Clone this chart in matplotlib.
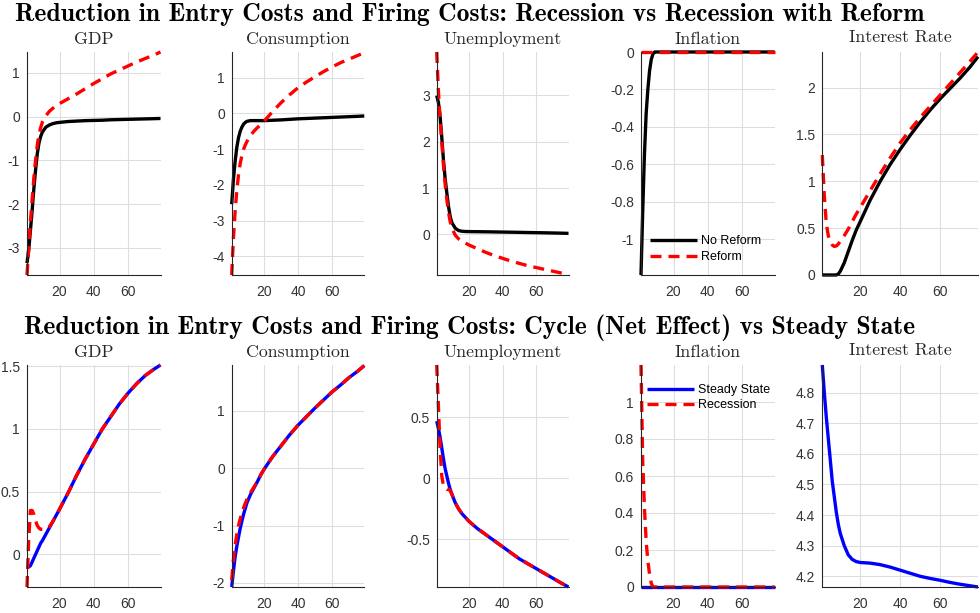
import matplotlib
matplotlib.use("Agg")
import matplotlib.pyplot as plt
from matplotlib.ticker import FixedLocator, FuncFormatter

# ---------------- data ----------------
periods = [1, 2, 3, 4, 5, 6, 7, 8, 9, 10, 12, 14, 16, 18, 20, 25, 30, 35, 40, 45, 50, 55, 60, 65, 70, 75, 79]

top_title = "Reduction in Entry Costs and Firing Costs: Recession vs Recession with Reform"
bottom_title = "Reduction in Entry Costs and Firing Costs: Cycle (Net Effect) vs Steady State"
panel_titles = ["GDP", "Consumption", "Unemployment", "Inflation", "Interest Rate"]
top_labels = ["No Reform", "Reform"]
bottom_labels = ["Steady State", "Recession"]
x_ticks = [20, 40, 60]

# top row: recession without reform (black) / with reform (red)
gdp_no_reform = [-3.35, -3.05, -2.6, -2.15, -1.65, -1.22, -0.85, -0.6, -0.45, -0.35, -0.24, -0.19, -0.16,
                 -0.14, -0.13, -0.11, -0.1, -0.09, -0.085, -0.08, -0.07, -0.065, -0.06, -0.055, -0.05, -0.045, -0.04]
gdp_reform = [-3.62, -3.0, -2.4, -1.9, -1.4, -1.0, -0.65, -0.4, -0.25, -0.12, 0.02, 0.12, 0.19,
              0.25, 0.3, 0.41, 0.52, 0.64, 0.76, 0.87, 0.98, 1.07, 1.16, 1.25, 1.33, 1.41, 1.48]
cons_no_reform = [-2.54, -1.85, -1.35, -0.95, -0.68, -0.5, -0.38, -0.3, -0.25, -0.22, -0.2, -0.2, -0.2,
                  -0.2, -0.2, -0.19, -0.18, -0.165, -0.15, -0.14, -0.13, -0.12, -0.11, -0.1, -0.09, -0.08, -0.07]
cons_reform = [-4.52, -3.5, -2.75, -2.15, -1.72, -1.4, -1.18, -1.0, -0.88, -0.78, -0.62, -0.5, -0.4,
               -0.32, -0.22, 0.05, 0.3, 0.52, 0.72, 0.88, 1.03, 1.17, 1.3, 1.42, 1.52, 1.62, 1.7]
unemp_no_reform = [3.0, 2.85, 2.55, 2.1, 1.6, 1.2, 0.89, 0.6, 0.38, 0.25, 0.13, 0.08, 0.065,
                   0.06, 0.058, 0.056, 0.054, 0.051, 0.048, 0.045, 0.042, 0.038, 0.035, 0.032, 0.028, 0.024, 0.02]
unemp_reform = [3.94, 3.1, 2.5, 2.0, 1.5, 1.08, 0.75, 0.47, 0.27, 0.13, -0.02, -0.1, -0.15,
                -0.19, -0.23, -0.31, -0.39, -0.46, -0.52, -0.58, -0.63, -0.68, -0.72, -0.76, -0.8, -0.84, -0.88]
infl_no_reform = [-1.19, -0.85, -0.55, -0.33, -0.2, -0.1, -0.04, -0.01, 0.0, 0.0, 0.0, 0.0, 0.0,
                  0.0, 0.0, 0.0, 0.0, 0.0, 0.0, 0.0, 0.0, 0.0, 0.0, 0.0, 0.0, 0.0, 0.0]
infl_reform = [0.0, 0.0, 0.0, 0.0, 0.0, 0.0, 0.0, 0.0, 0.0, 0.0, 0.0, 0.0, 0.0,
               0.0, 0.0, 0.0, 0.0, 0.0, 0.0, 0.0, 0.0, 0.0, 0.0, 0.0, 0.0, 0.0, 0.0]
rate_no_reform = [0.0, 0.0, 0.0, 0.0, 0.0, 0.0, 0.0, 0.0, 0.01, 0.04, 0.13, 0.25, 0.37,
                  0.48, 0.57, 0.8, 1.0, 1.18, 1.34, 1.49, 1.63, 1.76, 1.88, 1.99, 2.1, 2.22, 2.33]
rate_reform = [1.28, 0.85, 0.55, 0.42, 0.36, 0.32, 0.305, 0.31, 0.33, 0.36, 0.42, 0.49, 0.57,
               0.65, 0.72, 0.9, 1.08, 1.25, 1.41, 1.55, 1.68, 1.8, 1.92, 2.04, 2.16, 2.28, 2.38]

# bottom row: steady state (blue) / recession, net effect (red)
gdp_steady = [-0.09, -0.1, -0.09, -0.06, -0.03, 0.0, 0.03, 0.06, 0.09, 0.11, 0.16, 0.21, 0.26,
              0.31, 0.36, 0.49, 0.63, 0.76, 0.88, 1.0, 1.1, 1.2, 1.285, 1.36, 1.425, 1.475, 1.51]
gdp_recession = [-0.26, 0.12, 0.35, 0.35, 0.32, 0.27, 0.23, 0.21, 0.2, 0.2, 0.2, 0.22, 0.26,
                 0.31, 0.36, 0.49, 0.63, 0.76, 0.88, 1.0, 1.1, 1.2, 1.285, 1.36, 1.425, 1.475, 1.51]
cons_steady = [-2.07, -1.8, -1.55, -1.36, -1.2, -1.05, -0.92, -0.8, -0.7, -0.6, -0.46, -0.35, -0.24,
               -0.12, -0.02, 0.2, 0.39, 0.58, 0.75, 0.9, 1.05, 1.19, 1.33, 1.45, 1.58, 1.69, 1.79]
cons_recession = [-1.95, -1.6, -1.35, -1.15, -1.0, -0.88, -0.78, -0.69, -0.61, -0.54, -0.43, -0.33, -0.24,
                  -0.12, -0.02, 0.2, 0.39, 0.58, 0.75, 0.9, 1.05, 1.19, 1.33, 1.45, 1.58, 1.69, 1.79]
unemp_steady = [0.47, 0.41, 0.34, 0.25, 0.16, 0.08, 0.02, -0.04, -0.09, -0.13, -0.2, -0.25, -0.29,
                -0.32, -0.35, -0.41, -0.46, -0.51, -0.56, -0.61, -0.66, -0.7, -0.74, -0.78, -0.82, -0.86, -0.89]
unemp_recession = [0.93, 0.6, 0.25, 0.02, -0.06, -0.08, -0.09, -0.09, -0.1, -0.13, -0.2, -0.25, -0.29,
                   -0.32, -0.35, -0.41, -0.46, -0.51, -0.56, -0.61, -0.66, -0.7, -0.74, -0.78, -0.82, -0.86, -0.89]
infl_steady = [0.0, 0.0, 0.0, 0.0, 0.0, 0.0, 0.0, 0.0, 0.0, 0.0, 0.0, 0.0, 0.0,
               0.0, 0.0, 0.0, 0.0, 0.0, 0.0, 0.0, 0.0, 0.0, 0.0, 0.0, 0.0, 0.0, 0.0]
infl_recession = [1.2, 0.68, 0.43, 0.25, 0.14, 0.07, 0.02, 0.0, 0.0, 0.0, 0.0, 0.0, 0.0,
                  0.0, 0.0, 0.0, 0.0, 0.0, 0.0, 0.0, 0.0, 0.0, 0.0, 0.0, 0.0, 0.0, 0.0]
rate_steady = [4.89, 4.8, 4.72, 4.65, 4.58, 4.51, 4.46, 4.41, 4.37, 4.34, 4.3, 4.27, 4.255,
               4.248, 4.245, 4.243, 4.238, 4.23, 4.22, 4.21, 4.2, 4.193, 4.187, 4.18, 4.174, 4.169, 4.165]

top_yticks = [[-3, -2, -1, 0, 1], [-4, -3, -2, -1, 0, 1], [0, 1, 2, 3],
              [-1, -0.8, -0.6, -0.4, -0.2, 0], [0, 0.5, 1, 1.5, 2]]
bottom_yticks = [[0, 0.5, 1, 1.5], [-2, -1, 0, 1], [-0.5, 0, 0.5],
                 [0, 0.2, 0.4, 0.6, 0.8, 1], [4.2, 4.3, 4.4, 4.5, 4.6, 4.7, 4.8]]
top_ylims = [(-3.62, 1.48), (-4.52, 1.72), (-0.88, 3.94), (-1.19, 0.0), (0.0, 2.38)]
bottom_ylims = [(-0.26, 1.51), (-2.07, 1.80), (-0.89, 0.93), (0.0, 1.2), (4.165, 4.89)]

# ---------------- layout / style ----------------
W, H = 980, 613
plt.rcParams["axes.unicode_minus"] = False
tick_font = "Liberation Sans"
col_lr = [(27, 160.5), (231.7, 364.3), (436.7, 568.5), (641, 774.5), (822.3, 978)]
row_tb = [(52, 275), (365, 587)]
LW = 2.4
DASH = (3.3, 2.1)

fig = plt.figure(figsize=(W / 100, H / 100), dpi=100)


def make_axes(l, r, t, b):
    return fig.add_axes([l / W, 1 - b / H, (r - l) / W, (b - t) / H])


def style(ax, yticks, ylim):
    ax.set_xlim(1, 79)
    ax.set_ylim(*ylim)
    ax.xaxis.set_major_locator(FixedLocator(x_ticks))
    ax.yaxis.set_major_locator(FixedLocator(yticks))
    ax.yaxis.set_major_formatter(FuncFormatter(lambda v, p: f"{v:g}"))
    for s in ("top", "right"):
        ax.spines[s].set_visible(False)
    for s in ("left", "bottom"):
        ax.spines[s].set_color("#262626")
        ax.spines[s].set_linewidth(0.8)
    ax.grid(True, color="#dedede", linewidth=0.8)
    ax.set_axisbelow(True)
    ax.tick_params(axis="both", length=0, labelsize=10, labelcolor="#333333")
    ax.tick_params(axis="x", pad=7.5)
    ax.tick_params(axis="y", pad=5)
    for lab in ax.get_xticklabels() + ax.get_yticklabels():
        lab.set_fontfamily(tick_font)


top_series = [(gdp_no_reform, gdp_reform), (cons_no_reform, cons_reform),
              (unemp_no_reform, unemp_reform), (infl_no_reform, infl_reform),
              (rate_no_reform, rate_reform)]
bottom_series = [(gdp_steady, gdp_recession), (cons_steady, cons_recession),
                 (unemp_steady, unemp_recession), (infl_steady, infl_recession),
                 (rate_steady, None)]

sub_y = [[39, 39, 39, 39, 37], [352, 352, 352, 352, 350]]

for row in range(2):
    t, b = row_tb[row]
    for c in range(5):
        l, r = col_lr[c]
        ax = make_axes(l, r, t, b)
        if row == 0:
            solid, dashed = top_series[c]
            base_color = "black"
            labels = top_labels
            yt, yl = top_yticks[c], top_ylims[c]
        else:
            solid, dashed = bottom_series[c]
            base_color = "#0000ff"
            labels = bottom_labels
            yt, yl = bottom_yticks[c], bottom_ylims[c]
        ax.plot(periods, solid, color=base_color, lw=LW, label=labels[0],
                clip_on=False, solid_capstyle="butt")
        if dashed is not None:
            ax.plot(periods, dashed, color="#ff0000", lw=LW, ls=(0, DASH), label=labels[1],
                    clip_on=False, dash_capstyle="butt")
        style(ax, yt, yl)
        fig.text((l + r) / 2 / W, 1 - sub_y[row][c] / H, panel_titles[c],
                 ha="center", va="center", fontsize=12.8, fontfamily="cmr10", color="#262626")
        if c == 3:
            leg_top = 235.5 if row == 0 else 384
            leg_left = 650 if row == 0 else 646.7
            ax.legend(loc="upper left", bbox_to_anchor=(leg_left / W, 1 - leg_top / H),
                      bbox_transform=fig.transFigure, frameon=False, borderpad=0,
                      borderaxespad=0, handlelength=3.75, handletextpad=0.32,
                      labelspacing=0.28, prop={"family": tick_font, "size": 9})

fig.text(470 / W, 1 - 15 / H, top_title, ha="center", va="center",
         fontsize=18.4, fontfamily="cmb10", color="black")
fig.text(470 / W, 1 - 328 / H, bottom_title, ha="center", va="center",
         fontsize=18.4, fontfamily="cmb10", color="black")

fig.savefig("out.png", dpi=100)
